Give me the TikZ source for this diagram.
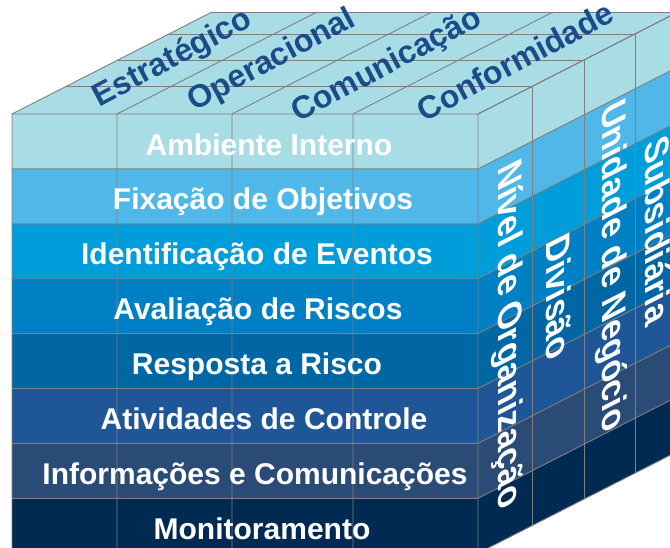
\documentclass[tikz,border=0pt]{standalone}
\usepackage{fontspec}
\setmainfont{Liberation Sans}
\definecolor{cA}{HTML}{A9DDE6}
\definecolor{cB}{HTML}{50B8E9}
\definecolor{cC}{HTML}{009DDB}
\definecolor{cD}{HTML}{0080C4}
\definecolor{cE}{HTML}{0067A4}
\definecolor{cF}{HTML}{1F5697}
\definecolor{cG}{HTML}{2B4B77}
\definecolor{cH}{HTML}{002A52}
\definecolor{topblue}{HTML}{1B4C8A}
\definecolor{linegray}{HTML}{7F7F7F}
\begin{document}
\begin{tikzpicture}[x=1pt,y=-1pt,
  gridline/.style={draw=linegray, line width=0.9pt},
  fronttext/.style={text=white, font=\bfseries\fontsize{30}{30}\selectfont, anchor=base, inner sep=0pt},
  toptext/.style={text=topblue, font=\bfseries\fontsize{32}{32}\selectfont, rotate=28, inner sep=0pt},
  sidetext/.style={text=white, font=\bfseries\fontsize{34}{34}\selectfont, cm={0,-1,1,0.51,(0,0)}, inner sep=0pt}]
\useasboundingbox (0,0) rectangle (670,547);
\clip (0,0) rectangle (670,547);
% top face
\fill[cA] (12,114) -- (478,114) -- (678,12) -- (212,12) -- cycle;
% rows: front and right faces
\foreach \c [count=\r from 0] in {cA,cB,cC,cD,cE,cF,cG,cH}{
  \pgfmathsetmacro{\ya}{114+54.9*\r}
  \pgfmathsetmacro{\yb}{114+54.9*(\r+1)}
  \fill[\c] (12,\ya) rectangle (478,\yb);
  \fill[\c] (478,\ya) -- (678,\ya-102) -- (678,\yb-102) -- (478,\yb) -- cycle;
}
% front vertical lines and top width lines
\foreach \x in {12,117,232,353,478}{
  \draw[gridline] (\x,553) -- (\x,114) -- (\x+200,12);
}
% horizontal row lines (front + right)
\foreach \r in {0,...,8}{
  \pgfmathsetmacro{\ya}{114+54.9*\r}
  \draw[gridline] (12,\ya) -- (478,\ya) -- (678,\ya-102);
}
% depth divisions: right face verticals and top face depth lines
\foreach \dx/\dy in {54/-27.5,106/-54,157/-80,200/-102}{
  \draw[gridline] (12+\dx,114+\dy) -- (478+\dx,114+\dy) -- (478+\dx,553+\dy);
}
% front texts
\node[fronttext] (t1) at (269,155) {Ambiente Interno};
\node[fronttext] (t2) at (263,209.9) {Fixação de Objetivos};
\node[fronttext] (t3) at (257,264.8) {Identificação de Eventos};
\node[fronttext] (t4) at (258,319.7) {Avaliação de Riscos};
\node[fronttext] (t5) at (257,374.6) {Resposta a Risco};
\node[fronttext] (t6) at (264,429.5) {Atividades de Controle};
\node[fronttext] (t7) at (255,484.4) {Informações e Comunicações};
\node[fronttext] (t8) at (262,539.3) {Monitoramento};
% top texts
\node[toptext] (u1) at (173,59) {Estratégico};
\node[toptext] (u2) at (272,61) {Operacional};
\node[toptext] (u3) at (387,66) {Comunicação};
\node[toptext] (u4) at (515,61) {Conformidade};
% side texts
\node[sidetext] (s1) at (507,336) {Nível de Organização};
\node[sidetext] (s2) at (559,297) {Divisão};
\node[sidetext] (s3) at (611,267) {Unidade de Negócio};
\node[sidetext] (s4) at (658,230) {Subsidiária};
\end{tikzpicture}
\end{document}
